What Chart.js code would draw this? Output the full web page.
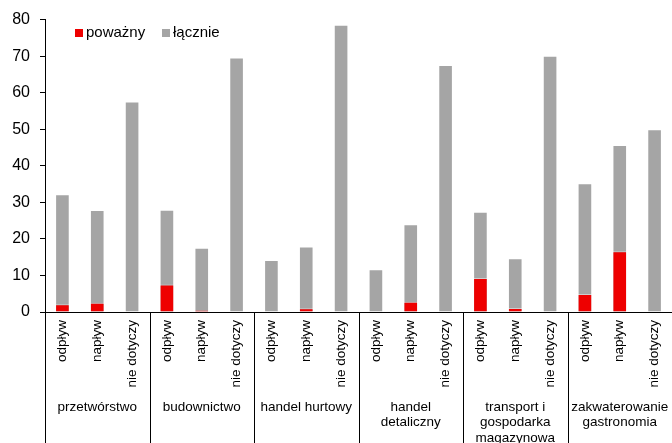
<!DOCTYPE html>
<html lang="pl">
<head>
<meta charset="utf-8">
<script src="https://cdn.jsdelivr.net/npm/chart.js@4.4.1/dist/chart.umd.min.js"></script>
<style>
  html, body { margin: 0; padding: 0; background: #fff; }
  #wrap { width: 672px; height: 443px; }
</style>
</head>
<body>
<div id="wrap"><canvas id="c" width="672" height="443"></canvas></div>
<script>
// Kategorie: typ przepływu w ramach każdej branży
const flowTypes = ['odpływ', 'napływ', 'nie dotyczy'];
const sectors = [
  ['przetwórstwo'],
  ['budownictwo'],
  ['handel hurtowy'],
  ['handel', 'detaliczny'],
  ['transport i', 'gospodarka', 'magazynowa'],
  ['zakwaterowanie', 'gastronomia']
];

// Wartości serii (kolejno po branżach: odpływ, napływ, nie dotyczy)
const powazny = [2.1, 2.5, 0, 7.5, 0.5, 0, 0, 1.0, 0, 0.1, 2.8, 0, 9.3, 1.1, 0, 4.9, 16.6, 0];
const lacznie = [32.2, 27.9, 57.6, 28.0, 17.6, 69.6, 14.2, 17.9, 78.6, 11.7, 24.0, 67.6, 27.4, 14.7, 70.1, 35.2, 45.7, 50.0];

// Podziałka osi Y
const yTicks = [0, 10, 20, 30, 40, 50, 60, 70, 80];

const labels = [];
sectors.forEach(() => flowTypes.forEach(t => labels.push(t)));

const FONT = "'Liberation Sans', Arial, sans-serif";

// Linie podziału branż, podpisy branż i legenda
const sectorPlugin = {
  id: 'sectorPlugin',
  afterDraw(chart) {
    const ctx = chart.ctx;
    const xs = chart.scales.x;
    const area = chart.chartArea;
    const n = labels.length;
    const step = (xs.right - xs.left) / n;
    ctx.save();
    ctx.strokeStyle = '#000';
    ctx.lineWidth = 1;
    for (let i = 0; i <= n; i += flowTypes.length) {
      const x = Math.round(xs.left + i * step) + 0.5;
      ctx.beginPath();
      ctx.moveTo(x, area.bottom);
      ctx.lineTo(x, chart.height);
      ctx.stroke();
    }
    ctx.fillStyle = '#000';
    ctx.font = '13.5px ' + FONT;
    ctx.textAlign = 'center';
    ctx.textBaseline = 'middle';
    sectors.forEach((lines, g) => {
      const cx = xs.left + (g * flowTypes.length + flowTypes.length / 2) * step;
      lines.forEach((ln, k) => ctx.fillText(ln, cx, 407 + k * 15.5));
    });

    // legenda
    const items = [
      { text: 'poważny', color: '#EE0000' },
      { text: 'łącznie', color: '#A5A5A5' }
    ];
    ctx.font = '15px ' + FONT;
    ctx.textAlign = 'left';
    let lx = area.left + 30;
    const ly = 33;
    items.forEach(it => {
      ctx.fillStyle = it.color;
      ctx.fillRect(lx, ly - 4, 8, 8);
      ctx.fillStyle = '#000';
      ctx.fillText(it.text, lx + 11, ly);
      lx += 87;
    });
    ctx.restore();
  }
};

new Chart(document.getElementById('c'), {
  type: 'bar',
  data: {
    labels: labels,
    datasets: [
      {
        label: 'poważny',
        data: powazny,
        backgroundColor: '#EE0000',
        borderColor: 'rgba(255,255,255,0.45)',
        borderWidth: 1,
        grouped: false,
        order: 1,
        barPercentage: 0.42,
        categoryPercentage: 1.0
      },
      {
        label: 'łącznie',
        data: lacznie,
        backgroundColor: '#A5A5A5',
        borderColor: 'rgba(255,255,255,0.6)',
        borderWidth: 1,
        grouped: false,
        order: 2,
        barPercentage: 0.42,
        categoryPercentage: 1.0
      }
    ]
  },
  options: {
    responsive: false,
    animation: false,
    devicePixelRatio: 1,
    layout: { padding: { top: 17, right: 0, left: 0, bottom: 0 } },
    plugins: {
      legend: { display: false },
      tooltip: { enabled: false }
    },
    scales: {
      x: {
        grid: { display: false },
        border: { display: true, color: '#000', width: 1 },
        ticks: {
          maxRotation: 90,
          minRotation: 90,
          padding: 0,
          color: '#000',
          font: { family: FONT, size: 13.5 },
          autoSkip: false
        },
        afterFit(scale) {
          scale.height = 131;
          scale.paddingLeft = 0;
          scale.paddingRight = 0;
        }
      },
      y: {
        min: 0,
        max: 80,
        afterBuildTicks(scale) {
          scale.ticks = yTicks.map(v => ({ value: v }));
        },
        grid: {
          drawOnChartArea: false,
          drawTicks: true,
          tickLength: 5,
          color: '#000'
        },
        border: { display: true, color: '#000', width: 1 },
        ticks: {
          padding: 10,
          color: '#000',
          font: { family: FONT, size: 16 }
        },
        afterFit(scale) {
          scale.width = 45;
        }
      }
    }
  },
  plugins: [sectorPlugin]
});
</script>
</body>
</html>
